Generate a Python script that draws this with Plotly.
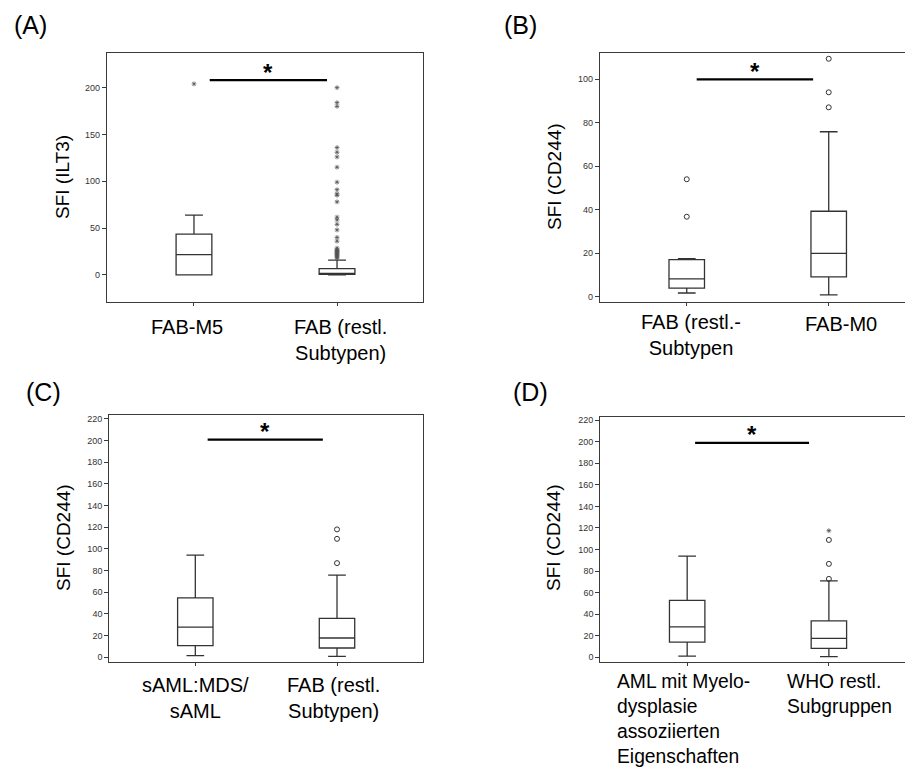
import plotly.graph_objects as go

W, H = 913, 767
OFF = 8  # default body margin of the written HTML page

# ---------------- data ----------------
# Panel A: SFI (ILT3)
cats_A = ["FAB-M5", "FAB (restl.<br>Subtypen)"]
q1_A = [0.0, 0.6]
med_A = [21.7, 1.6]
q3_A = [43.5, 6.7]
lo_A = [0.0, 0.0]
hi_A = [63.7, 15.7]
stars_A0 = [204]
stars_A1 = [200, 184, 180, 136, 131, 126, 115, 99, 91, 86.5, 85, 78, 61.6, 58.8, 54,
            48, 40, 36, 28.5, 27, 26, 25, 24, 23, 22, 21, 20, 19, 18]
sig_A = 208
ticks_A = [0, 50, 100, 150, 200]

# Panel B: SFI (CD244)
cats_B = ["FAB (restl.-<br>Subtypen", "FAB-M0"]
q1_B = [4.0, 9.2]
med_B = [8.3, 20.0]
q3_B = [17.1, 39.3]
lo_B = [1.8, 0.9]
hi_B = [17.6, 75.8]
circ_B0 = [54.0, 36.8]
circ_B1 = [109.3, 93.9, 87.0]
sig_B = 99.8
ticks_B = [0, 20, 40, 60, 80, 100]

# Panel C: SFI (CD244)
cats_C = ["sAML:MDS/<br>sAML", "FAB (restl.<br>Subtypen)"]
q1_C = [10.7, 8.6]
med_C = [27.9, 17.8]
q3_C = [54.9, 35.9]
lo_C = [1.5, 0.9]
hi_C = [94.3, 75.8]
circ_C1 = [118.0, 109.3, 86.9]
sig_C = 200.9
ticks_C = [0, 20, 40, 60, 80, 100, 120, 140, 160, 180, 200, 220]

# Panel D: SFI (CD244)
cats_D = ["AML mit Myelo-<br>dysplasie<br>assoziierten<br>Eigenschaften",
          "WHO restl.<br>Subgruppen"]
q1_D = [14.2, 8.3]
med_D = [28.3, 17.6]
q3_D = [52.8, 33.9]
lo_D = [1.2, 0.6]
hi_D = [93.8, 70.9]
circ_D1 = [72.8, 86.7, 108.9]
stars_D1 = [117.5]
sig_D = 199.0
ticks_D = [0, 20, 40, 60, 80, 100, 120, 140, 160, 180, 200, 220]

# ---------------- layout helpers ----------------
FONT = "Arial, Liberation Sans, sans-serif"
LINE = "#3a3a3a"
BOXC = "#333333"


def px_x(p):
    return (p - OFF) / W


def px_y(p):
    return 1 - (p - OFF) / H


panels = {
    # page pixels: left, right, top, bottom
    "A": dict(dom=(107, 423, 53, 302), xr=(-0.608, 1.601), yr=(-29, 237)),
    "B": dict(dom=(600, 921, 53.3, 301.7), xr=(-0.611, 1.65), yr=(-2.2, 111.8)),
    "C": dict(dom=(109.3, 423.3, 414.5, 662.3), xr=(-0.607, 1.609), yr=(-4.6, 224)),
    "D": dict(dom=(600.3, 921, 416.5, 662.3), xr=(-0.613, 1.65), yr=(-4.6, 223.4)),
}

fig = go.Figure()
axis_ids = {"A": "", "B": "2", "C": "3", "D": "4"}


def add_box(k, q1, med, q3, lo, hi):
    a = axis_ids[k]
    fig.add_trace(go.Box(
        x=[0, 1], q1=q1, median=med, q3=q3, lowerfence=lo, upperfence=hi,
        orientation="v", width=0.25, whiskerwidth=0.5, boxpoints=False,
        fillcolor="white", line=dict(color=BOXC, width=1.3),
        xaxis="x" + a, yaxis="y" + a, hoverinfo="skip"))


def add_pts(k, xpos, vals, symbol):
    a = axis_ids[k]
    star = symbol.startswith("asterisk")
    fig.add_trace(go.Scatter(
        x=[xpos] * len(vals), y=vals, mode="markers",
        marker=dict(symbol=symbol, size=4 if star else 5,
                    color="#555" if star else BOXC,
                    line=dict(color="#555" if star else BOXC,
                              width=0.8 if star else 1)),
        xaxis="x" + a, yaxis="y" + a, hoverinfo="skip"))


def add_sig(k, yv, x0, x1):
    a = axis_ids[k]
    fig.add_trace(go.Scatter(
        x=[x0, x1], y=[yv, yv], mode="lines",
        line=dict(color="black", width=2.2),
        xaxis="x" + a, yaxis="y" + a, hoverinfo="skip"))
    fig.add_annotation(x=(x0 + x1) / 2, y=yv, xref="x" + a, yref="y" + a,
                       text="<b>*</b>", showarrow=False, yanchor="middle",
                       yshift=8, font=dict(size=24, color="black", family=FONT))


add_box("A", q1_A, med_A, q3_A, lo_A, hi_A)
add_pts("A", 0, stars_A0, "asterisk-open")
add_pts("A", 1, stars_A1, "asterisk-open")
add_sig("A", sig_A, 0.11, 0.93)

add_box("B", q1_B, med_B, q3_B, lo_B, hi_B)
add_pts("B", 0, circ_B0, "circle-open")
add_pts("B", 1, circ_B1, "circle-open")
add_sig("B", sig_B, 0.07, 0.89)

add_box("C", q1_C, med_C, q3_C, lo_C, hi_C)
add_pts("C", 1, circ_C1, "circle-open")
add_sig("C", sig_C, 0.087, 0.90)

add_box("D", q1_D, med_D, q3_D, lo_D, hi_D)
add_pts("D", 1, circ_D1, "circle-open")
add_pts("D", 1, stars_D1, "asterisk-open")
add_sig("D", sig_D, 0.056, 0.86)

ticks = {"A": ticks_A, "B": ticks_B, "C": ticks_C, "D": ticks_D}
layout = {}
for k, p in panels.items():
    l, r, t, b = p["dom"]
    a = axis_ids[k]
    layout["xaxis" + a] = dict(
        domain=[px_x(l), min(1.0, px_x(r))], range=list(p["xr"]),
        anchor="y" + a, tickvals=[0, 1], ticktext=["", ""], ticks="outside",
        ticklen=3, tickcolor=LINE, showline=True, mirror=True, linecolor=LINE,
        linewidth=1.2, showgrid=False, zeroline=False, fixedrange=True)
    layout["yaxis" + a] = dict(
        domain=[px_y(b), px_y(t)], range=list(p["yr"]), anchor="x" + a,
        tickvals=ticks[k], ticks="outside", ticklen=4, tickcolor=LINE,
        tickfont=dict(size=9, color="#333", family=FONT),
        showline=True, mirror=True, linecolor=LINE, linewidth=1.2,
        showgrid=False, zeroline=False, fixedrange=True)

fig.update_layout(
    width=W, height=H, margin=dict(l=0, r=0, t=0, b=0),
    paper_bgcolor="white", plot_bgcolor="white", showlegend=False,
    font=dict(family=FONT, color="black"), **layout)


def cat_label(k, xpos, text, xshift, yshift, align="center", xanchor="center",
              size=20):
    a = axis_ids[k]
    fig.add_annotation(x=xpos, y=0, xref="x" + a, yref="y" + a + " domain",
                       text=text, showarrow=False, xanchor=xanchor, yanchor="top",
                       align=align, xshift=xshift, yshift=yshift,
                       font=dict(size=size, color="black", family=FONT))


cat_label("A", 0, cats_A[0], -7, -12)
cat_label("A", 1, cats_A[1], 3, -12)
cat_label("B", 0, cats_B[0], 4, -7)
cat_label("B", 1, cats_B[1], 12, -9)
cat_label("C", 0, cats_C[0], 0, -10)
cat_label("C", 1, cats_C[1], -4, -10)
cat_label("D", 0, cats_D[0], -72, -7, align="left", xanchor="left", size=19.3)
cat_label("D", 1, cats_D[1], -44, -7, align="left", xanchor="left", size=19.3)

# axis titles
titles = [("SFI (ILT3)", 63, 177), ("SFI (CD244)", 555, 177),
          ("SFI (CD244)", 63, 538), ("SFI (CD244)", 553, 538)]
for txt, xp, yp in titles:
    fig.add_annotation(x=px_x(xp), y=px_y(yp), xref="paper", yref="paper",
                       text=txt, textangle=-90, showarrow=False,
                       xanchor="center", yanchor="middle",
                       font=dict(size=19, color="black", family=FONT))

# panel letters
letters = [("(A)", 30, 25), ("(B)", 520, 25), ("(C)", 43, 392), ("(D)", 530, 392)]
for txt, xp, yp in letters:
    fig.add_annotation(x=px_x(xp), y=px_y(yp), xref="paper", yref="paper",
                       text=txt, showarrow=False, xanchor="center", yanchor="middle",
                       font=dict(size=25, color="black", family=FONT))

fig.write_html("out.html")
